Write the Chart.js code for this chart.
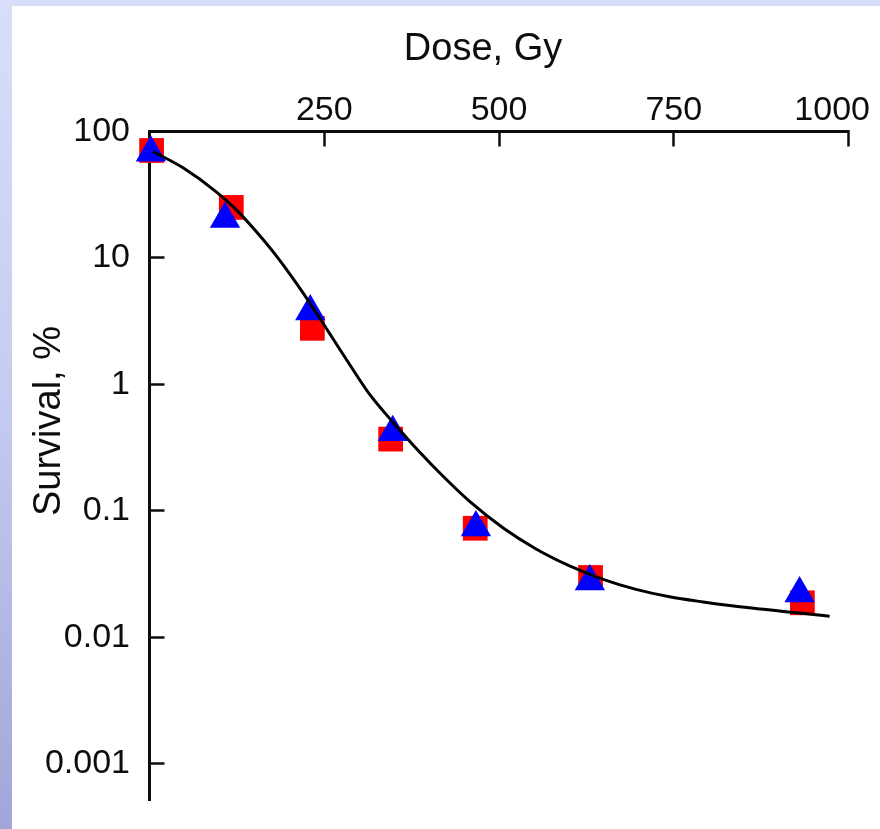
<!DOCTYPE html>
<html>
<head>
<meta charset="utf-8">
<title>Survival vs dose</title>
<script src="https://cdn.jsdelivr.net/npm/chart.js@4.4.1/dist/chart.umd.min.js"></script>
<style>
  html, body { margin: 0; padding: 0; }
  body {
    width: 880px; height: 829px; overflow: hidden;
    background: linear-gradient(to bottom, #d8defa 0%, #c4cbf0 50%, #a0a6d8 100%);
  }
  #panel { position: absolute; left: 12px; top: 6px; width: 868px; height: 823px; background: #fff; }
</style>
</head>
<body>
<div id="panel"><canvas id="survivalChart" width="868" height="823"></canvas></div>
<script>
// axis ticks
const doseTicks = [250, 500, 750, 1000];
const survivalTicks = [100, 10, 1, 0.1, 0.01, 0.001];

// red squares
const squareDose = [3, 117, 233, 345, 466, 631, 934];
const squareSurvival = [70.8, 25.1, 2.78, 0.37, 0.073, 0.0298, 0.0188];

// blue triangles
const triangleDose = [2, 108, 230, 348, 467, 630, 930];
const triangleSurvival = [68, 20.3, 3.78, 0.42, 0.074, 0.0277, 0.0223];

// fitted curve
const fitDose = [5, 48, 96, 125, 153, 182, 210, 239, 258, 287, 315, 348, 385, 420, 458, 506, 553, 601, 649, 696, 744, 792, 830, 973];
const fitSurvival = [69.5, 51.6, 33.2, 23.8, 16.1, 10.3, 6.32, 3.66, 2.51, 1.42, 0.834, 0.505, 0.298, 0.188, 0.119, 0.0733, 0.0501, 0.0368, 0.0288, 0.024, 0.021, 0.0191, 0.0179, 0.0147];

const FONT = '"Liberation Sans", Arial, sans-serif';
const INK = "#0d0d0d";

function pairs(xs, ys) {
    return xs.map((x, i) => ({ x: x, y: ys[i] }));
}

// x tick labels and both axis titles (the originals sit off-centre)
const axisText = {
    id: "axisText",
    afterDraw(chart) {
        const ctx = chart.ctx;
        const x = chart.scales.x;
        ctx.save();
        ctx.fillStyle = INK;
        ctx.textBaseline = "alphabetic";
        ctx.textAlign = "center";
        ctx.font = "34px " + FONT;
        doseTicks.forEach(function (v) {
            const label = String(v);
            const w = ctx.measureText(label).width;
            const px = Math.min(x.getPixelForValue(v), chart.width - 10 - w / 2);
            ctx.fillText(label, px, x.bottom - 11.5);
        });

        ctx.font = "38px " + FONT;
        ctx.fillText("Dose, Gy", 471, 54);

        ctx.translate(48, 415);
        ctx.rotate(-Math.PI / 2);
        ctx.fillText("Survival, %", 0, 0);
        ctx.restore();
    }
};

document.addEventListener("DOMContentLoaded", function () {
    const ctx = document.getElementById("survivalChart").getContext("2d");

    new Chart(ctx, {
        type: "scatter",
        data: {
            datasets: [{
                label: "Fit",
                data: pairs(fitDose, fitSurvival),
                showLine: true,
                borderColor: "#000",
                borderWidth: 3,
                pointRadius: 0,
                cubicInterpolationMode: "monotone",
                order: 0
            }, {
                label: "Triangles",
                data: pairs(triangleDose, triangleSurvival),
                pointStyle: "triangle",
                pointRadius: 17.5,
                pointBackgroundColor: "#0000ff",
                pointBorderWidth: 0,
                clip: false,
                order: 1
            }, {
                label: "Squares",
                data: pairs(squareDose, squareSurvival),
                pointStyle: "rect",
                pointRadius: 17.5,
                pointBackgroundColor: "#ff0000",
                pointBorderWidth: 0,
                clip: false,
                order: 2
            }]
        },
        options: {
            responsive: false,
            animation: false,
            layout: { padding: { left: 0, top: 0, right: 31.5, bottom: 29 } },
            plugins: {
                legend: { display: false },
                tooltip: { enabled: false }
            },
            scales: {
                x: {
                    type: "linear",
                    position: "top",
                    min: 0,
                    max: 1000,
                    afterBuildTicks: function (s) { s.ticks = doseTicks.map(v => ({ value: v })); },
                    afterFit: function (s) { s.height = 125.5; s.paddingLeft = 0; s.paddingRight = 0; },
                    grid: { drawOnChartArea: false, tickLength: -15, tickColor: INK, tickWidth: 2.5 },
                    border: { color: INK, width: 3 },
                    ticks: { display: false }
                },
                y: {
                    type: "logarithmic",
                    position: "left",
                    min: 0.000519,
                    max: 100,
                    bounds: "data",
                    afterBuildTicks: function (s) { s.ticks = survivalTicks.map(v => ({ value: v })); },
                    afterFit: function (s) { s.width = 137.5; s.paddingTop = 0; s.paddingBottom = 0; },
                    grid: { drawOnChartArea: false, tickLength: -15, tickColor: INK, tickWidth: 2.5 },
                    border: { color: INK, width: 3 },
                    ticks: {
                        color: INK,
                        font: { family: FONT, size: 34 },
                        padding: 34.5,
                        autoSkip: false,
                        callback: function (v) { return String(v); }
                    }
                }
            }
        },
        plugins: [axisText]
    });
});
</script>
</body>
</html>
